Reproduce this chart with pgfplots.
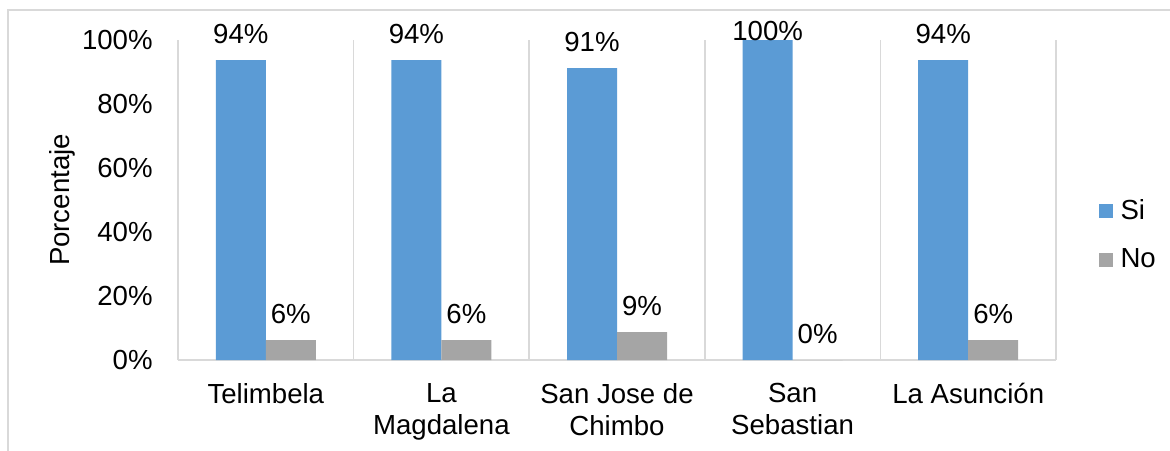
\documentclass[border=0pt]{standalone}
\usepackage{pgfplots}
\pgfplotsset{compat=1.18}
\usepackage{pgfplotstable}
\usepackage{fontspec}
\setmainfont{Liberation Sans}
\definecolor{sibar}{HTML}{5B9BD5}
\definecolor{nobar}{HTML}{A5A5A5}
\definecolor{gridgray}{HTML}{D9D9D9}
\pgfplotstableread{
x si sils no nols
0 93.75 8.5 6.25 8.5
1 93.75 8.5 6.25 8.5
2 91.25 8.5 8.75 8.5
3 100 0 0 8.5
4 93.75 8.5 6.25 8.5
}\datatable
\newcommand{\cfont}{\fontsize{13.8}{16}\selectfont}
\begin{document}
\begin{tikzpicture}
\useasboundingbox (0,0) rectangle (585pt,-225pt);
\draw[gridgray, line width=0.8pt] (4pt,-300pt) -- (4pt,-5pt) -- (700pt,-5pt);
\begin{axis}[
  at={(89pt,-180pt)}, anchor=south west,
  scale only axis, width=439pt, height=160pt,
  xmin=-0.5, xmax=4.5, ymin=0, ymax=100,
  ybar=0pt, bar width=25pt,
  clip=false,
  axis x line*=bottom, axis y line*=left,
  axis line style={draw=gridgray, line width=0.8pt, -},
  xtick={0,1,2,3,4},
  xticklabels={Telimbela,{La\\Magdalena},{San Jose de\\Chimbo},{San\\Sebastian},{La Asunción}},
  minor xtick={-0.5,0.5,1.5,2.5,3.5,4.5},
  xminorgrids,
  minor grid style={draw=gridgray, line width=0.8pt},
  major tick length=0pt, minor tick length=0pt,
  ytick={0,20,40,60,80,100},
  yticklabel={\pgfmathprintnumber{\tick}\%},
  /pgf/number format/assume math mode=true,
  xticklabel style={align=center, anchor=north, inner sep=0pt, yshift=-11.5pt, font=\cfont},
  yticklabel style={anchor=east, inner sep=0pt, xshift=-12.5pt, font=\cfont},
  ylabel={Porcentaje},
  ylabel style={at={(axis description cs:-0.132,0.5)}, anchor=center, font=\cfont},
  legend style={at={(axis description cs:1.048,0.3906)}, anchor=west, draw=none, fill=none,
    font=\cfont, inner sep=0pt, row sep=10pt,
    nodes={inner sep=1.5pt},
    /tikz/every odd column/.append style={column sep=2.5pt}},
  legend cell align=left,
  legend image code/.code={\fill[#1] (0pt,-3.5pt) rectangle (7pt,3.5pt);},
  nodes near coords={\pgfmathprintnumber[fixed,precision=0]{\pgfplotspointmeta}\%},
  every node near coord/.append style={anchor=base, inner sep=0pt, font=\cfont, text=black, yshift=\labsh pt},
]
\addplot[fill=sibar, draw=none, visualization depends on={\thisrow{sils} \as \labsh}] table[x=x, y=si] {\datatable};
\addplot[fill=nobar, draw=none, visualization depends on={\thisrow{nols} \as \labsh}] table[x=x, y=no] {\datatable};
\legend{Si,No}
\end{axis}
\end{tikzpicture}
\end{document}
